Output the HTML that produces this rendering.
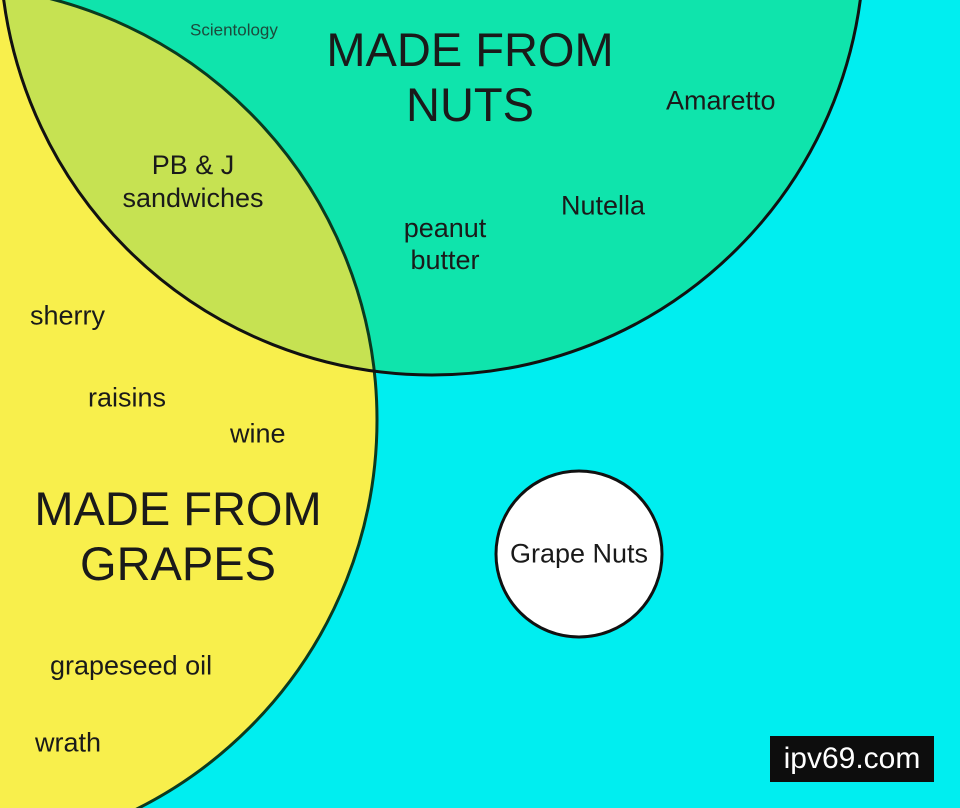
<!DOCTYPE html>
<html><head><style>
html,body{margin:0;padding:0;overflow:hidden;width:960px;height:808px;}
body{background:#00eef0;position:relative;font-family:"Liberation Sans",sans-serif;}
svg{position:absolute;left:0;top:0;}
.t{position:absolute;color:#1a1a1a;white-space:nowrap;line-height:1;transform:translateY(-50%);}
.c{text-align:center;transform:translate(-50%,-50%);}
</style></head><body>
<svg width="960" height="808" viewBox="0 0 960 808">
<defs><clipPath id="y"><circle cx="-58" cy="420" r="435"/></clipPath></defs>
<circle cx="-58" cy="420" r="435" fill="#f8ef4c"/>
<circle cx="432" cy="-57" r="432" fill="#0fe4ac"/>
<circle cx="432" cy="-57" r="432" fill="#c6e252" clip-path="url(#y)"/>
<circle cx="-58" cy="420" r="435" fill="none" stroke="#0a3a20" stroke-width="3"/>
<circle cx="432" cy="-57" r="432" fill="none" stroke="#111" stroke-width="3"/>
<circle cx="579" cy="554" r="83" fill="#fff" stroke="#111" stroke-width="3"/>
</svg>
<div class="t" style="left:190px;top:30px;font-size:17px;color:#1c4a3c">Scientology</div>
<div class="t c" style="left:470px;top:77px;font-size:47px;line-height:55px">MADE FROM<br>NUTS</div>
<div class="t" style="left:666px;top:101px;font-size:27px">Amaretto</div>
<div class="t c" style="left:193px;top:182px;font-size:27px;line-height:33px">PB &amp; J<br>sandwiches</div>
<div class="t" style="left:561px;top:206px;font-size:27px">Nutella</div>
<div class="t c" style="left:445px;top:244px;font-size:27px;line-height:32px">peanut<br>butter</div>
<div class="t" style="left:30px;top:316px;font-size:27px">sherry</div>
<div class="t" style="left:88px;top:398px;font-size:27px">raisins</div>
<div class="t" style="left:230px;top:434px;font-size:27px">wine</div>
<div class="t c" style="left:178px;top:536px;font-size:47px;line-height:55px">MADE FROM<br>GRAPES</div>
<div class="t c" style="left:579px;top:554px;font-size:27px">Grape Nuts</div>
<div class="t" style="left:50px;top:666px;font-size:27px">grapeseed oil</div>
<div class="t" style="left:35px;top:743px;font-size:27px">wrath</div>
<div style="position:absolute;left:770px;top:736px;width:164px;height:46px;background:#0d0d0d;color:#fff;font-size:30px;line-height:46px;text-align:center">ipv69.com</div>
</body></html>
